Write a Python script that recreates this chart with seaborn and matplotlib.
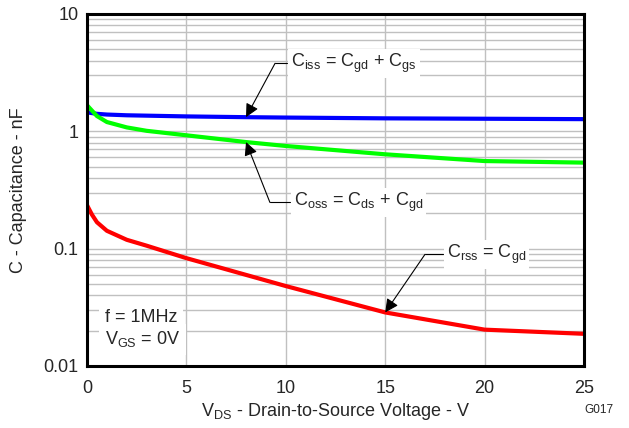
import matplotlib
matplotlib.use("Agg")
import matplotlib.pyplot as plt
import matplotlib.ticker as mticker
import numpy as np
import pandas as pd
import seaborn as sns

# values (nF)
vds_ciss = [0, 0.5, 1, 2, 3, 5, 8, 10, 15, 20, 25]
ciss = [1.45, 1.41, 1.39, 1.37, 1.36, 1.34, 1.32, 1.31, 1.29, 1.28, 1.27]

vds_coss = [0, 0.5, 1, 2, 3, 5, 8, 10, 15, 20, 25]
coss = [1.67, 1.35, 1.20, 1.08, 1.01, 0.925, 0.81, 0.75, 0.637, 0.558, 0.541]

vds_crss = [0, 0.25, 0.5, 1, 2, 3, 5, 10, 15, 20, 25]
crss = [0.235, 0.195, 0.168, 0.142, 0.119, 0.106, 0.083, 0.048, 0.0286, 0.0204, 0.0188]

xticks = [0, 5, 10, 15, 20, 25]
yticks = [0.01, 0.1, 1, 10]
ytick_labels = ["0.01", "0.1", "1", "10"]

colors = {"Ciss": "#0000FF", "Coss": "#00FF00", "Crss": "#FF0000"}

df = pd.concat([
    pd.DataFrame({"vds": vds_ciss, "cap": ciss, "series": "Ciss"}),
    pd.DataFrame({"vds": vds_coss, "cap": coss, "series": "Coss"}),
    pd.DataFrame({"vds": vds_crss, "cap": crss, "series": "Crss"}),
], ignore_index=True)

sns.set_style("white")
plt.rcParams["font.family"] = ["Liberation Sans", "DejaVu Sans"]
plt.rcParams["mathtext.default"] = "regular"

FS = 13

fig = plt.figure(figsize=(6.29, 4.28), dpi=100)
ax = fig.add_axes([0.1383, 0.1449, 0.7902, 0.8224])

ax.set_yscale("log")
ax.set_xlim(0, 25)
ax.set_ylim(0.01, 10)

# grid: decades + minor per-decade lines, x every 5 V
ax.yaxis.set_minor_locator(mticker.LogLocator(base=10, subs=np.arange(2, 10)))
ax.grid(True, which="major", color="#c0c0c0", lw=1.0)
ax.grid(True, which="minor", axis="y", color="#c0c0c0", lw=1.0)
ax.set_axisbelow(True)

sns.lineplot(data=df, x="vds", y="cap", hue="series", palette=colors,
             legend=False, lw=3, ax=ax, sort=False)

ax.set_xticks(xticks)
ax.set_yticks(yticks)
ax.set_yticklabels(ytick_labels)
ax.yaxis.set_minor_formatter(mticker.NullFormatter())
ax.tick_params(which="both", length=0, labelsize=FS)
ax.tick_params(axis="x", pad=10)
ax.tick_params(axis="y", pad=6)

for sp in ax.spines.values():
    sp.set_color("black")
    sp.set_linewidth(2.2)

ax.set_xlabel("V$_{DS}$ - Drain-to-Source Voltage - V", fontsize=FS, labelpad=3)
ax.set_ylabel("C - Capacitance - nF", fontsize=FS, labelpad=12)


def interp_log(x, xs, ys):
    return 10 ** np.interp(x, xs, np.log10(ys))


box = dict(fc="white", ec="none", pad=2)
arrow = dict(arrowstyle="-|>", color="black", lw=0.8, mutation_scale=20,
             shrinkA=0, shrinkB=0)


def callout(label, tip_x, xs, ys, elbow, text_x):
    tip = (tip_x, interp_log(tip_x, xs, ys))
    ax.annotate("", xy=tip, xytext=elbow, arrowprops=arrow, zorder=5)
    ax.plot([elbow[0], text_x], [elbow[1], elbow[1]], color="black", lw=0.8, zorder=5)
    ax.text(text_x + 0.2, elbow[1], label, fontsize=FS, va="center", ha="left",
            bbox=box, zorder=4)


callout("C$_{iss}$ = C$_{gd}$ + C$_{gs}$", 8, vds_ciss, ciss, (9.46, 3.8), 10.06)
callout("C$_{oss}$ = C$_{ds}$ + C$_{gd}$", 8, vds_coss, coss, (9.2, 0.248), 10.2)
callout("C$_{rss}$ = C$_{gd}$", 15, vds_crss, crss, (17.0, 0.0894), 17.9)

ax.text(0.9, 0.0261, "f = 1MHz", fontsize=FS, va="center", ha="left",
        bbox=dict(fc="white", ec="none", pad=4), zorder=4)
ax.text(0.9, 0.0169, "V$_{GS}$ = 0V", fontsize=FS, va="center", ha="left",
        bbox=dict(fc="white", ec="none", pad=4), zorder=4)

fig.text(0.975, 0.042, "G017", fontsize=8.5, ha="right", va="center")

fig.savefig("out.png", dpi=100)
